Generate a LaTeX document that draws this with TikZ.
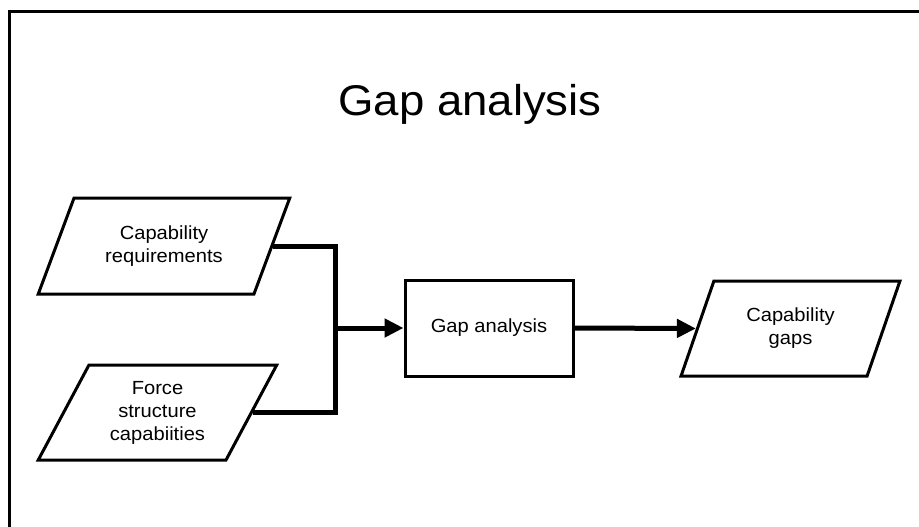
\documentclass[tikz,border=0pt]{standalone}
\usepackage{fontspec}
\setmainfont{Liberation Sans}[FakeStretch=1.06]
\usepackage{tikz}
\usetikzlibrary{shapes.geometric,arrows.meta}

\begin{document}
\begin{tikzpicture}[
  x=1pt,
  y=-1pt,
  iobox/.style={
    trapezium,
    trapezium stretches=true,
    draw=black,
    fill=white,
    text=black,
    line width=3pt,
    inner sep=2pt,
    align=center,
    font=\fontsize{19}{23}\selectfont
  },
  procbox/.style={
    rectangle,
    draw=black,
    fill=white,
    text=black,
    line width=3pt,
    minimum width=168pt,
    minimum height=96pt,
    align=center,
    font=\fontsize{19}{23}\selectfont
  },
  line/.style={
    line width=5pt,
    draw=black
  }
]
\useasboundingbox (0,0) rectangle (919,527);

% Frame
\draw[line width=3.5pt] (9.5,540) -- (9.5,11.5) -- (930,11.5);

% Title
\node[anchor=base, font=\fontsize{43}{50}\selectfont] (title) at (470,115) {Gap analysis};

% Inputs
\node[iobox, trapezium left angle=61.6, trapezium right angle=118.4,
  minimum width=252pt, minimum height=96pt] (req) at (164,246) {Capability\\requirements};
\node[iobox, trapezium left angle=61.3, trapezium right angle=118.7,
  minimum width=239pt, minimum height=95pt] (fsc) at (157.5,412.5) {Force\\structure\\capabiities};

% Process
\node[procbox] (gap) at (489,328) {Gap analysis};

% Output
\node[iobox, trapezium left angle=66.1, trapezium right angle=113.9,
  minimum width=219pt, minimum height=95pt] (gaps) at (790.5,328.5) {Capability\\gaps};

% Connectors
\coordinate (jn) at (335,328);
\draw[line] (req.east) -| (jn);
\draw[line] (fsc.east) -| (jn);
\draw[line, -{Triangle[length=19pt,width=18pt]}] (jn) -- (gap.west);
\draw[line, -{Triangle[length=19pt,width=18pt]}] (gap.east) -- (gaps.west);

\end{tikzpicture}
\end{document}
